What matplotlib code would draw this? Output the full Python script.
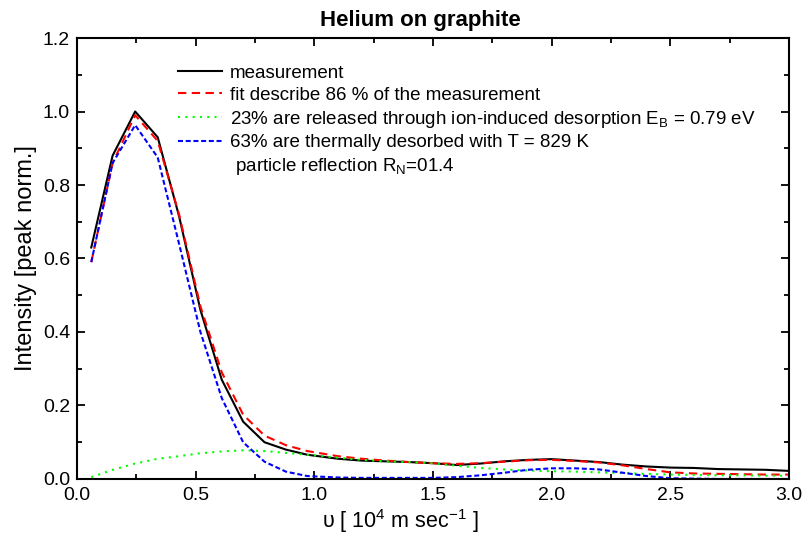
import matplotlib
matplotlib.use('Agg')
import matplotlib.pyplot as plt
from matplotlib.lines import Line2D
from matplotlib.ticker import MultipleLocator

plt.rcParams['font.family'] = ['Liberation Sans', 'DejaVu Sans']
plt.rcParams['mathtext.fontset'] = 'custom'
plt.rcParams['mathtext.rm'] = 'Liberation Sans'
plt.rcParams['mathtext.it'] = 'Liberation Sans:italic'

# velocity grid [10^4 m/s]
velocity = [0.06, 0.15, 0.245, 0.34, 0.43, 0.52, 0.61, 0.70, 0.79, 0.88, 0.97,
            1.1, 1.2, 1.3, 1.4, 1.5, 1.6, 1.7, 1.8, 1.9, 2.0, 2.1, 2.2, 2.3,
            2.4, 2.5, 2.6, 2.7, 2.8, 2.9, 3.0]

measurement = [0.63, 0.88, 1.0, 0.93, 0.715, 0.46, 0.27, 0.156, 0.10, 0.08, 0.066,
               0.055, 0.050, 0.048, 0.046, 0.043, 0.038, 0.042, 0.048, 0.052, 0.054,
               0.050, 0.046, 0.039, 0.034, 0.031, 0.030, 0.027, 0.026, 0.025, 0.022]

fit_total = [0.59, 0.86, 0.99, 0.92, 0.72, 0.47, 0.29, 0.175, 0.118, 0.092, 0.076,
             0.062, 0.055, 0.050, 0.046, 0.043, 0.041, 0.043, 0.047, 0.051, 0.052,
             0.049, 0.045, 0.037, 0.027, 0.018, 0.015, 0.014, 0.013, 0.012, 0.012]

ion_induced = [0.005, 0.025, 0.042, 0.055, 0.062, 0.070, 0.075, 0.078, 0.076, 0.071,
               0.066, 0.058, 0.052, 0.048, 0.046, 0.043, 0.036, 0.030, 0.026, 0.023,
               0.021, 0.020, 0.018, 0.016, 0.014, 0.012, 0.011, 0.010, 0.010, 0.009, 0.009]

thermal = [0.59, 0.86, 0.963, 0.875, 0.64, 0.40, 0.22, 0.10, 0.047, 0.02, 0.008,
           0.004, 0.003, 0.003, 0.003, 0.003, 0.005, 0.010, 0.017, 0.025, 0.029,
           0.029, 0.026, 0.017, 0.008, 0.002, 0.001, 0.0, 0.0, 0.0, 0.0]

fig = plt.figure(figsize=(8.04, 5.4), dpi=100)
ax = fig.add_axes([0.0958, 0.113, 0.8855, 0.8166])

ax.plot(velocity, measurement, color='black', lw=1.5, label='measurement')
ax.plot(velocity, fit_total, color='red', lw=1.5, ls=(0, (4, 2.6)),
        label='fit describe 86 % of the measurement')
ax.plot(velocity, ion_induced, color='#00ff00', lw=1.5, ls=(0, (1, 2.5)),
        label='23% are released through ion-induced desorption E$_\\mathrm{B}$ = 0.79 eV')
ax.plot(velocity, thermal, color='blue', lw=1.5, ls=(0, (2.4, 1.3)),
        label='63% are thermally desorbed with T = 829 K')

handles, labels = ax.get_legend_handles_labels()
handles.append(Line2D([], [], color='none'))
labels.append(' particle reflection R$_\\mathrm{N}$=01.4')
ax.legend(handles, labels, loc='upper left', bbox_to_anchor=(0.142, 0.939),
          frameon=False, fontsize=13.5, handlelength=2.35, handletextpad=0.43,
          labelspacing=0.25, borderaxespad=0, borderpad=0)

ax.set_xlim(0, 3.0)
ax.set_ylim(0, 1.2)
ax.xaxis.set_major_locator(MultipleLocator(0.5))
ax.xaxis.set_minor_locator(MultipleLocator(0.25))
ax.yaxis.set_major_locator(MultipleLocator(0.2))
ax.yaxis.set_minor_locator(MultipleLocator(0.1))
ax.xaxis.set_major_formatter(lambda v, p: f'{v:.1f}')
ax.yaxis.set_major_formatter(lambda v, p: f'{v:.1f}')
ax.tick_params(which='both', direction='in', top=True, right=True, width=1.3, labelsize=14)
ax.tick_params(axis='x', pad=6)
ax.tick_params(axis='y', pad=5)
ax.tick_params(which='major', length=6)
ax.tick_params(which='minor', length=3.5)
for s in ax.spines.values():
    s.set_linewidth(1.5)

ax.set_xlabel('υ [ 10$^4$ m sec$^{-1}$ ]', fontsize=15.5, labelpad=2, x=0.454)
ax.set_ylabel('Intensity [peak norm.]', fontsize=17, labelpad=4)
ax.set_title('Helium on graphite', fontsize=16, fontweight='bold', x=0.482, pad=9)

fig.savefig('out.png', dpi=100)
